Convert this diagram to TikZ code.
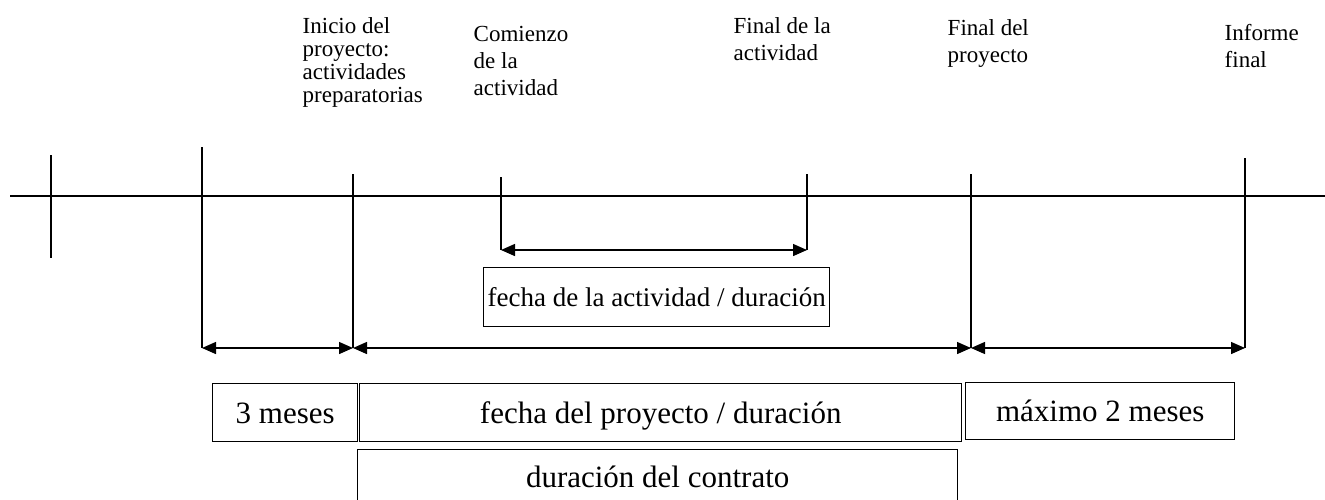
\documentclass[tikz,border=0pt]{standalone}
\usepackage{fontspec}
\setmainfont{Liberation Serif}
\usetikzlibrary{arrows.meta}
\begin{document}
\begin{tikzpicture}[x=1pt,y=-1pt,line width=1.4pt,
  dim/.style={{Triangle[length=14pt,width=12pt]}-{Triangle[length=14pt,width=12pt]},line width=1.4pt},
  lbl/.style={anchor=north west,inner sep=0pt,align=left,font=\fontsize{23}{27}\selectfont},
  boxed/.style={draw,line width=1.4pt,inner sep=0pt,anchor=north west,text height=21pt,text depth=0pt},
  bigtxt/.style={font=\fontsize{31}{31}\selectfont},
  midtxt/.style={font=\fontsize{27}{27}\selectfont,text height=18pt}]
\useasboundingbox (0,0) rectangle (1325,499);
\clip (0,0) rectangle (1325,499);
% timeline
\coordinate (L0) at (10,196);
\coordinate (L1) at (1325,196);
\draw (L0) -- (L1);
% tick end points
\coordinate (t0a) at (51,155);  \coordinate (t0b) at (51,258);
\coordinate (t1a) at (202,147); \coordinate (t1b) at (202,348);
\coordinate (t2a) at (353,174); \coordinate (t2b) at (353,348);
\coordinate (t3a) at (501,177); \coordinate (t3b) at (501,250);
\coordinate (t4a) at (807,174); \coordinate (t4b) at (807,250);
\coordinate (t5a) at (971,174); \coordinate (t5b) at (971,348);
\coordinate (t6a) at (1245,158);\coordinate (t6b) at (1245,348);
\draw (t0a) -- (t0b);
\draw (t1a) -- (t1b);
\draw (t2a) -- (t2b);
\draw (t3a) -- (t3b);
\draw (t4a) -- (t4b);
\draw (t5a) -- (t5b);
\draw (t6a) -- (t6b);
% dimension arrows
\draw[dim] (t3b) -- (t4b);
\draw[dim] (t1b) -- (t2b);
\draw[dim] (t2b) -- (t5b);
\draw[dim] (t5b) -- (t6b);
% top labels
\node[lbl,font=\fontsize{23}{23}\selectfont] (inicio) at (302,17) {Inicio del\\proyecto:\\actividades\\preparatorias};
\node[lbl] (comienzo) at (473,26) {Comienzo\\de la\\actividad};
\node[lbl] (finact) at (733,17) {Final de la\\actividad};
\node[lbl] (finproy) at (947,19) {Final del\\proyecto};
\node[lbl] (informe) at (1224,24) {Informe\\final};
% boxes
\node[boxed,midtxt,minimum width=346pt,minimum height=59pt] (act) at (483,267) {fecha de la actividad / duración};
\node[boxed,bigtxt,minimum width=145pt,minimum height=58pt] (tres) at (212,383) {3 meses};
\node[boxed,bigtxt,minimum width=602pt,minimum height=58pt] (proy) at (359,383) {fecha del proyecto / duración};
\node[boxed,bigtxt,minimum width=269pt,minimum height=57pt] (max) at (965,382) {máximo 2 meses};
\node[boxed,bigtxt,minimum width=600pt,minimum height=54pt] (contr) at (357,449) {duración del contrato};
\end{tikzpicture}
\end{document}
